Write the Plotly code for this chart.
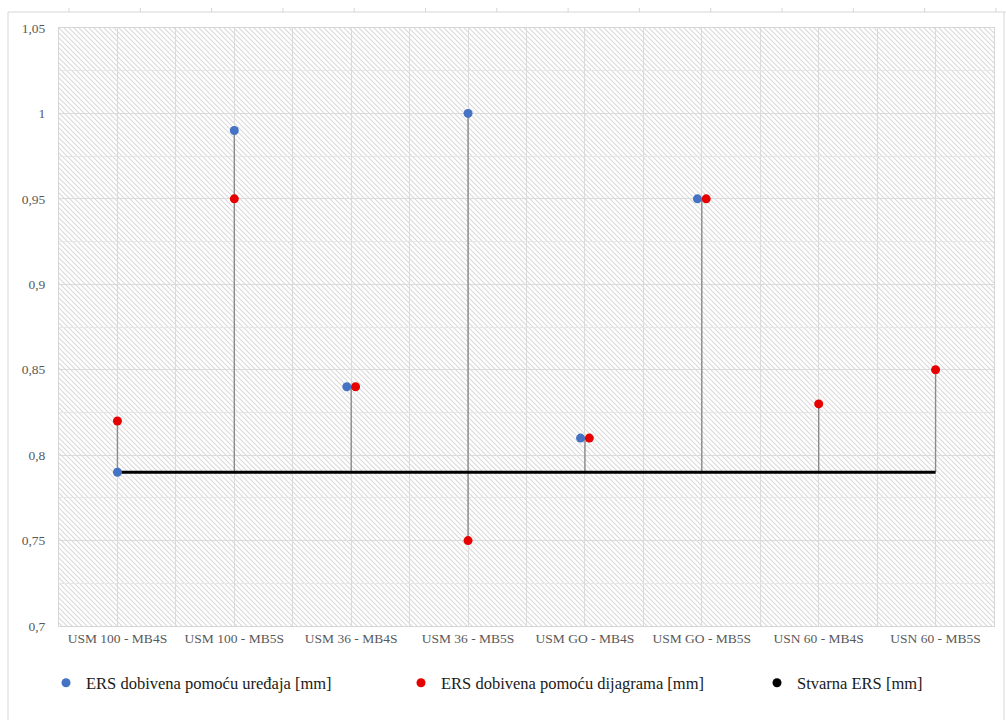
import base64
import plotly.graph_objects as go

# ---------------- data ----------------
categories = ["USM 100 - MB4S", "USM 100 - MB5S", "USM 36 - MB4S", "USM 36 - MB5S",
              "USM GO - MB4S", "USM GO - MB5S", "USN 60 - MB4S", "USN 60 - MB5S"]
ers_uredaja = [0.79, 0.99, 0.84, 1.00, 0.81, 0.95, None, None]
ers_dijagrama = [0.82, 0.95, 0.84, 0.75, 0.81, 0.95, 0.83, 0.85]
stvarna_ers = [0.79, 0.79, 0.79, 0.79, 0.79, 0.79, 0.79, 0.79]
y_tick_values = [0.7, 0.75, 0.8, 0.85, 0.9, 0.95, 1.0, 1.05]

name_uredaja = "ERS dobivena pomoću uređaja [mm]"
name_dijagrama = "ERS dobivena pomoću dijagrama [mm]"
name_stvarna = "Stvarna ERS [mm]"

# ---------------- layout geometry ----------------
W, H = 1006, 720
L, R, T, B = 59, 12, 28, 94
PW, PH = W - L - R, H - T - B

FONT = "'Liberation Serif', 'Times New Roman', 'DejaVu Serif', serif"
BLUE = "#4472C4"
RED = "#E60000"

pos = [2 * i + 1 for i in range(len(categories))]
shift = 0.075
x_blue, x_red = [], []
for p, b, r in zip(pos, ers_uredaja, ers_dijagrama):
    same = b is not None and r is not None and abs(b - r) < 1e-9
    x_blue.append(p - shift if same else p)
    x_red.append(p + shift if same else p)

# stems (high-low lines)
stem_x, stem_y = [], []
for p, b, r, s in zip(pos, ers_uredaja, ers_dijagrama, stvarna_ers):
    vals = [v for v in (b, r, s) if v is not None]
    stem_x += [p, p, None]
    stem_y += [min(vals), max(vals), None]

fig = go.Figure()
fig.add_trace(go.Scatter(x=stem_x, y=stem_y, mode="lines",
                         line=dict(color="#8a8a8a", width=1.4),
                         showlegend=False, hoverinfo="skip"))
fig.add_trace(go.Scatter(x=pos, y=stvarna_ers, mode="lines",
                         line=dict(color="#000000", width=3),
                         showlegend=False, name=name_stvarna))
fig.add_trace(go.Scatter(x=x_blue, y=ers_uredaja, mode="markers", name=name_uredaja,
                         marker=dict(color=BLUE, size=9), legend="legend"))
fig.add_trace(go.Scatter(x=x_red, y=ers_dijagrama, mode="markers", name=name_dijagrama,
                         marker=dict(color=RED, size=9), legend="legend2"))
fig.add_trace(go.Scatter(x=[None], y=[None], mode="markers", name=name_stvarna,
                         marker=dict(color="#000000", size=9), legend="legend3"))

# hatched background as an SVG image
svg = (f'<svg xmlns="http://www.w3.org/2000/svg" width="{PW}" height="{PH}">'
       '<defs><pattern id="h" patternUnits="userSpaceOnUse" width="5" height="5">'
       '<path d="M-1,-1 L6,6 M4,-1 L6,1 M-1,4 L1,6" stroke="#d9d9d9" stroke-width="1.1"/>'
       '</pattern></defs>'
       f'<rect width="{PW}" height="{PH}" fill="#ffffff"/>'
       f'<rect width="{PW}" height="{PH}" fill="url(#h)"/></svg>')
src = "data:image/svg+xml;base64," + base64.b64encode(svg.encode()).decode()


def xp(px):
    return (px - L) / PW


def yp(py):
    return (H - B - py) / PH


shapes = []
frame = dict(color="#d6d6d6", width=1)
shapes.append(dict(type="line", xref="paper", yref="paper", x0=xp(8), x1=xp(1006),
                   y0=yp(12), y1=yp(12), line=frame))
shapes.append(dict(type="line", xref="paper", yref="paper", x0=xp(8), x1=xp(8),
                   y0=yp(12), y1=yp(720), line=frame))
shapes.append(dict(type="line", xref="paper", yref="paper", x0=xp(1004), x1=xp(1004),
                   y0=yp(12), y1=yp(720), line=frame))
k = 0
while 69 + 71.3 * k < 1004:
    xx = 69 + 71.3 * k
    shapes.append(dict(type="line", xref="paper", yref="paper", x0=xp(xx), x1=xp(xx),
                       y0=yp(8), y1=yp(12), line=frame))
    k += 1

legend_font = dict(family=FONT, size=16.5, color="#1a1a1a")


def legend_at(px):
    return dict(orientation="h", x=xp(px - 20), xanchor="left", y=yp(683), yanchor="middle",
                font=legend_font, bgcolor="rgba(0,0,0,0)", itemclick=False,
                itemdoubleclick=False)


fig.update_layout(
    width=W, height=H,
    margin=dict(l=L, r=R, t=T, b=B, autoexpand=False),
    paper_bgcolor="#ffffff",
    plot_bgcolor="rgba(0,0,0,0)",
    separators=", ",
    font=dict(family=FONT, color="#595959", size=13.5),
    images=[dict(source=src, xref="paper", yref="paper", x=0, y=1, sizex=1, sizey=1,
                 xanchor="left", yanchor="top", sizing="stretch", layer="below")],
    shapes=shapes,
    showlegend=True,
    legend=legend_at(66),
    legend2=legend_at(421),
    legend3=legend_at(777),
    xaxis=dict(range=[0, 2 * len(categories)], tickmode="array", tickvals=pos,
               ticktext=categories, showgrid=True, gridcolor="#dadada", gridwidth=1,
               minor=dict(tick0=0, dtick=1, showgrid=True, gridcolor="#dadada", gridwidth=1),
               zeroline=False, showline=True, linecolor="#d6d6d6", mirror=True,
               ticks="", automargin=False,
               tickfont=dict(family=FONT, size=13.5, color="#595959")),
    yaxis=dict(range=[0.7, 1.05], tickmode="array", tickvals=y_tick_values,
               showgrid=True, gridcolor="#dadada", gridwidth=1,
               minor=dict(tick0=0.7, dtick=0.025, showgrid=True, gridcolor="#e6e6e6", gridwidth=1),
               zeroline=False, showline=True, linecolor="#d6d6d6", mirror=True,
               ticks="", ticklabelstandoff=10, automargin=False,
               tickfont=dict(family=FONT, size=13.5, color="#595959")),
)

fig.write_html("out.html", config={"displayModeBar": False},
               post_script="document.body.style.margin='0';")
